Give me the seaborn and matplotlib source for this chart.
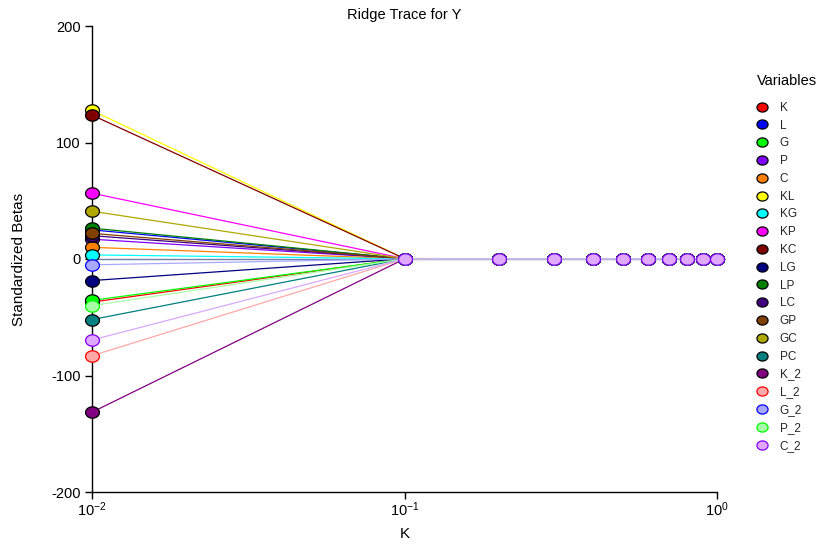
import matplotlib
matplotlib.use("Agg")
import matplotlib.pyplot as plt
from matplotlib.lines import Line2D
from matplotlib.path import Path
import numpy as np
import seaborn as sns
import pandas as pd

sns.set_theme(style="white")
plt.rcParams["font.family"] = ["Liberation Sans", "DejaVu Sans"]
plt.rcParams["axes.unicode_minus"] = False

# Ridge parameter values
k_values = [0.01, 0.1, 0.2, 0.3, 0.4, 0.5, 0.6, 0.7, 0.8, 0.9, 1.0]

variables = ["K", "L", "G", "P", "C", "KL", "KG", "KP", "KC", "LG",
             "LP", "LC", "GP", "GC", "PC", "K_2", "L_2", "G_2", "P_2", "C_2"]

# Standardized betas for each variable across k
beta_K = [-37.0, 0.2, 0.1, 0.1, 0.1, 0.1, 0.1, 0.1, 0.1, 0.1, 0.1]
beta_L = [25.0, 0.3, 0.2, 0.1, 0.1, 0.1, 0.1, 0.1, 0.1, 0.1, 0.1]
beta_G = [-35.5, 0.2, 0.1, 0.1, 0.1, 0.1, 0.1, 0.1, 0.1, 0.1, 0.1]
beta_P = [17.0, 0.3, 0.2, 0.1, 0.1, 0.1, 0.1, 0.1, 0.1, 0.1, 0.1]
beta_C = [10.0, 0.2, 0.1, 0.1, 0.1, 0.1, 0.1, 0.1, 0.1, 0.1, 0.1]
beta_KL = [127.5, 0.4, 0.2, 0.2, 0.1, 0.1, 0.1, 0.1, 0.1, 0.1, 0.1]
beta_KG = [3.5, 0.2, 0.1, 0.1, 0.1, 0.1, 0.1, 0.1, 0.1, 0.1, 0.1]
beta_KP = [56.5, 0.3, 0.2, 0.1, 0.1, 0.1, 0.1, 0.1, 0.1, 0.1, 0.1]
beta_KC = [123.5, 0.4, 0.2, 0.2, 0.1, 0.1, 0.1, 0.1, 0.1, 0.1, 0.1]
beta_LG = [-18.5, 0.2, 0.1, 0.1, 0.1, 0.1, 0.1, 0.1, 0.1, 0.1, 0.1]
beta_LP = [26.5, 0.3, 0.2, 0.1, 0.1, 0.1, 0.1, 0.1, 0.1, 0.1, 0.1]
beta_LC = [20.0, 0.3, 0.2, 0.1, 0.1, 0.1, 0.1, 0.1, 0.1, 0.1, 0.1]
beta_GP = [22.0, 0.3, 0.2, 0.1, 0.1, 0.1, 0.1, 0.1, 0.1, 0.1, 0.1]
beta_GC = [41.0, 0.3, 0.2, 0.1, 0.1, 0.1, 0.1, 0.1, 0.1, 0.1, 0.1]
beta_PC = [-52.0, 0.2, 0.1, 0.1, 0.1, 0.1, 0.1, 0.1, 0.1, 0.1, 0.1]
beta_K_2 = [-131.5, 0.1, 0.1, 0.1, 0.1, 0.1, 0.1, 0.1, 0.1, 0.1, 0.1]
beta_L_2 = [-83.0, 0.1, 0.1, 0.1, 0.1, 0.1, 0.1, 0.1, 0.1, 0.1, 0.1]
beta_G_2 = [-5.0, 0.1, 0.1, 0.1, 0.1, 0.1, 0.1, 0.1, 0.1, 0.1, 0.1]
beta_P_2 = [-40.0, 0.1, 0.1, 0.1, 0.1, 0.1, 0.1, 0.1, 0.1, 0.1, 0.1]
beta_C_2 = [-69.5, 0.1, 0.1, 0.1, 0.1, 0.1, 0.1, 0.1, 0.1, 0.1, 0.1]

betas = [beta_K, beta_L, beta_G, beta_P, beta_C, beta_KL, beta_KG, beta_KP,
         beta_KC, beta_LG, beta_LP, beta_LC, beta_GP, beta_GC, beta_PC,
         beta_K_2, beta_L_2, beta_G_2, beta_P_2, beta_C_2]

fill_colors = ["#FF0000", "#0000FF", "#00FF00", "#8000FF", "#FF8000",
               "#FFFF00", "#00FFFF", "#FF00FF", "#800000", "#000080",
               "#008000", "#400080", "#804000", "#B0A800", "#008080",
               "#800080", "#FFA8A8", "#A8A8FF", "#A8FFA8", "#E0A8FF"]
edge_colors = ["#000000"] * 16 + ["#FF0000", "#0000FF", "#00FF00", "#8000FF"]
line_colors = fill_colors[:16] + ["#FFA8A8", "#A8A8FF", "#A8FFA8", "#D8A8FF"]

# Slightly flattened circle used as the point marker
theta = np.linspace(0, 2 * np.pi, 41)
ellipse = Path(np.column_stack([np.cos(theta), 0.82 * np.sin(theta)]), closed=True)

df = pd.DataFrame({
    "K": k_values * len(variables),
    "Beta": [b for series in betas for b in series],
    "Variable": [v for v in variables for _ in k_values],
})

fig = plt.figure(figsize=(8.3, 5.45), dpi=100)
ax = fig.add_axes([92 / 830, 1 - 492 / 545, 625 / 830, 466 / 545])

ax.axhline(0, color="#7080A8", lw=1.0, zorder=1)

for i, var in enumerate(variables):
    sub = df[df["Variable"] == var]
    sns.lineplot(data=sub, x="K", y="Beta", ax=ax, color=line_colors[i],
                 lw=0.9, marker=ellipse, markersize=10,
                 markerfacecolor=fill_colors[i], markeredgecolor=edge_colors[i],
                 markeredgewidth=0.9, legend=False, zorder=2 + i)

for line in ax.lines:
    line.set_clip_on(False)

ax.set_xscale("log")
ax.set_xlim(0.01, 1.0)
ax.set_ylim(-200, 200)
ax.set_xticks([0.01, 0.1, 1.0])
ax.set_xticklabels([r"$\mathregular{10^{-2}}$", r"$\mathregular{10^{-1}}$",
                    r"$\mathregular{10^{0}}$"])
ax.xaxis.set_minor_locator(matplotlib.ticker.NullLocator())
ax.set_yticks([-200, -100, 0, 100, 200])

for side in ["top", "right"]:
    ax.spines[side].set_visible(False)
for side in ["left", "bottom"]:
    ax.spines[side].set_color("black")
    ax.spines[side].set_linewidth(1.0)
ax.tick_params(axis="both", direction="out", length=5, width=1,
               color="black", labelsize=10.5, labelcolor="black", pad=3,
               bottom=True, left=True)
ax.tick_params(axis="x", pad=1)

ax.set_xlabel("K", fontsize=11, color="black", labelpad=6)
ax.set_ylabel("Standardized Betas", fontsize=11, color="black", labelpad=18,
              family=["Liberation Sans Narrow", "Liberation Sans", "DejaVu Sans"])
ax.set_title("Ridge Trace for Y", fontsize=10.5, color="black", pad=5)

fig.text(757 / 830, 1 - 81 / 545, "Variables", fontsize=10.5, color="black",
         ha="left", va="center")

handles = [Line2D([], [], ls="none", marker=ellipse, markersize=8,
                  markerfacecolor=fill_colors[i], markeredgecolor=edge_colors[i],
                  markeredgewidth=0.9)
           for i in range(len(variables))]
leg = fig.legend(handles, variables, loc="upper left",
                 bbox_to_anchor=(750 / 830, 1 - 97 / 545), frameon=False,
                 fontsize=8.5, labelspacing=0.49, handletextpad=0.9,
                 handlelength=1.2, borderaxespad=0)

fig.savefig("out.png", dpi=100)
